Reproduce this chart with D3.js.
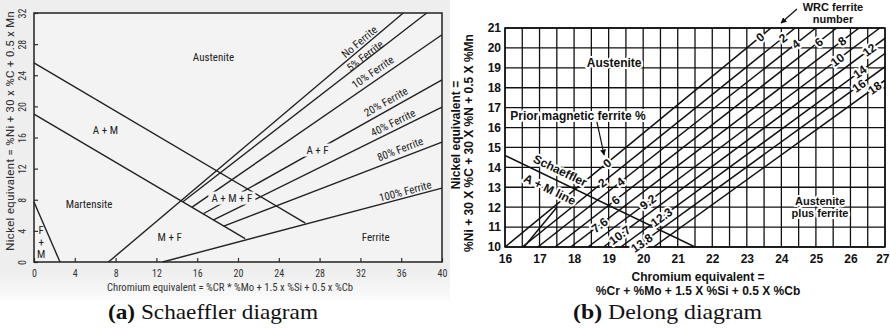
<!DOCTYPE html>
<html><head><meta charset="utf-8">
<script src="https://cdn.jsdelivr.net/npm/d3@7"></script>
<style>
html,body{margin:0;padding:0;background:#fff;}
svg{display:block;}
</style></head><body>
<svg id="c" width="890" height="328"></svg>
<script>
// ================= DATA: (a) Schaeffler diagram =================
const schXTicks = [0,4,8,12,16,20,24,28,32,36,40];
const schYTicks = [0,4,8,12,16,20,24,28,32];
// phase boundaries: [Cr_eq, Ni_eq] start / end
const schBoundaryStart = [[0,25.6],[0,19.0],[0,7.7],[7.3,0],[12.6,0]];
const schBoundaryEnd   = [[26.6,5.0],[20.7,3.0],[2.55,0],[36.2,32],[40,9.5]];
// ferrite iso-lines starting on the martensite boundary
const schFerriteStart = [[14.6,7.75],[15.5,7.05],[16.6,6.2],[17.6,5.4],[18.6,4.6]];
const schFerriteEnd   = [[38.5,32],[40,29.2],[40,23.4],[40,19.9],[40,15.4]];
const schLineNames = ["No Ferrite","5% Ferrite","10% Ferrite","20% Ferrite","40% Ferrite","80% Ferrite","100% Ferrite"];
const schLineNamePos = [[31.9,28.3],[32.45,26.5],[33.2,24.4],[34.5,20.6],[35.2,17.9],[35.9,14.5],[36.4,9.1]];
const schRegionNames = ["Austenite","A + M","Martensite","M + F","Ferrite","F","+","M"];
const schRegionPos = [[17.6,26.35],[7.0,17.0],[5.4,7.45],[13.3,3.2],[33.5,3.2],[0.7,4.1],[0.7,2.6],[0.7,1.0]];
const schInlineNames = ["A + M + F","A + F"];
const schInlineCr = [19.4,27.8];   // placed on the 20% ferrite line

// ================= DATA: (b) Delong diagram =================
const dlXTicks = [16,17,18,19,20,21,22,23,24,25,26,27];
const dlYTicks = [10,11,12,13,14,15,16,17,18,19,20,21];
const wrcFN = [0,2,4,6,8,10,12,14,16,18];
const magneticPct = [0,2,4,6,7.6,9.2,10.7,12.3,13.8];
const fnCrAtNi10 = [16.0,16.5,16.95,17.45,17.9,18.4,18.85,19.35,19.8,20.3];
const fnCrAtNi21 = [23.7,24.4,25.0,25.6,26.25,26.85,27.4,28.0,28.55,29.1];
const wrcLabelNi = [20.55,20.5,20.2,20.3,20.35,19.4,19.9,18.8,18.1,18.0];
const magLabelNi = [14.22,13.22,13.27,12.36,11.1,12.26,10.6,11.5,10.2];
const schaefflerAMLine = [[16,14.6],[21.5,10]];
const shortSegment = [[16.55,10],[17.5,12]];

// ================= DRAW =================
const svg = d3.select("#c");
const NARROW = "'Liberation Sans Narrow','Arial Narrow','Roboto Condensed',Arial,sans-serif";
const SANS = "'Liberation Sans',Arial,Helvetica,sans-serif";
const SERIF = "'Liberation Serif','Times New Roman',serif";
const defs = svg.append("defs");
const grad = defs.append("linearGradient").attr("id","panelGrad").attr("x1",0).attr("y1",0).attr("x2",0).attr("y2",1);
grad.append("stop").attr("offset","0%").attr("stop-color","#eeeeee");
grad.append("stop").attr("offset","90%").attr("stop-color","#eeeeee");
grad.append("stop").attr("offset","100%").attr("stop-color","#fbfbfb");
defs.append("marker").attr("id","arr").attr("viewBox","0 0 10 10").attr("refX",9).attr("refY",5)
  .attr("markerWidth",5).attr("markerHeight",5).attr("orient","auto")
  .append("path").attr("d","M0,0L10,5L0,10z").attr("fill","#111");

// ---------- Schaeffler ----------
const sx = d3.scaleLinear().domain([0,40]).range([34,442]);
const sy = d3.scaleLinear().domain([0,32]).range([262,13]);
const gS = svg.append("g");
gS.append("rect").attr("x",0).attr("y",0).attr("width",450).attr("height",300).attr("fill","url(#panelGrad)");
gS.append("rect").attr("x",sx(0)).attr("y",sy(32)).attr("width",sx(40)-sx(0)).attr("height",sy(0)-sy(32)).attr("fill","#f3f3f3");

gS.append("g").attr("transform",`translate(0,${sy(0)})`)
  .call(d3.axisBottom(sx).tickValues(schXTicks).tickSize(-4).tickPadding(8))
  .call(g=>g.select(".domain").remove())
  .call(g=>g.selectAll("line").attr("stroke","#333").attr("stroke-width",1.2))
  .call(g=>g.selectAll("text").attr("font-family",NARROW).attr("font-size",10).attr("fill","#333"));
gS.append("g").attr("transform",`translate(${sx(0)},0)`)
  .call(d3.axisLeft(sy).tickValues(schYTicks).tickSize(-4))
  .call(g=>g.select(".domain").remove())
  .call(g=>g.selectAll("line").attr("stroke","#333").attr("stroke-width",1.2))
  .call(g=>g.selectAll("text").attr("x",null).attr("dy","0.35em").attr("text-anchor","middle")
     .attr("transform","translate(-12,0) rotate(-90)")
     .attr("font-family",NARROW).attr("font-size",10).attr("fill","#333"));

const schSegments = schBoundaryStart.map((s,i)=>[s,schBoundaryEnd[i]])
  .concat(schFerriteStart.map((s,i)=>[s,schFerriteEnd[i]]));
const sLine = d3.line().x(p=>sx(p[0])).y(p=>sy(p[1]));
gS.selectAll("path.seg").data(schSegments).join("path").attr("class","seg")
  .attr("d",sLine).attr("fill","none").attr("stroke","#222").attr("stroke-width",1.4);

gS.append("rect").attr("x",sx(0)).attr("y",sy(32)).attr("width",sx(40)-sx(0)).attr("height",sy(0)-sy(32))
  .attr("fill","none").attr("stroke","#222").attr("stroke-width",1.5);

// segment order for names: No Ferrite=3, 5%..80% = 5..9, 100% = 4
const nameSeg = [schSegments[3],schSegments[5],schSegments[6],schSegments[7],schSegments[8],schSegments[9],schSegments[4]];
schLineNames.forEach((t,i)=>{
  const s = nameSeg[i];
  const ang = Math.atan2(sy(s[1][1])-sy(s[0][1]), sx(s[1][0])-sx(s[0][0]))*180/Math.PI;
  gS.append("text").attr("transform",`translate(${sx(schLineNamePos[i][0])},${sy(schLineNamePos[i][1])}) rotate(${ang})`)
    .attr("text-anchor","middle").attr("dy","0.35em").attr("font-family",NARROW).attr("font-size",11).attr("fill","#222").text(t);
});
schRegionNames.forEach((t,i)=>{
  gS.append("text").attr("x",sx(schRegionPos[i][0])).attr("y",sy(schRegionPos[i][1])).attr("dy","0.35em")
    .attr("text-anchor","middle").attr("font-family",NARROW).attr("font-size",11).attr("fill","#222").text(t);
});
const seg20 = schSegments[7];
schInlineNames.forEach((t,i)=>{
  const cr = schInlineCr[i];
  const ni = seg20[0][1] + (cr-seg20[0][0])*(seg20[1][1]-seg20[0][1])/(seg20[1][0]-seg20[0][0]);
  const tx = gS.append("text").attr("x",sx(cr)).attr("y",sy(ni)).attr("dy","0.35em")
    .attr("text-anchor","middle").attr("font-family",NARROW).attr("font-size",11).attr("fill","#222").text(t);
  const b = tx.node().getBBox();
  gS.insert("rect",()=>tx.node()).attr("x",b.x-3).attr("y",b.y).attr("width",b.width+6).attr("height",b.height).attr("fill","#f3f3f3");
});
gS.append("text").attr("x",230).attr("y",291).attr("text-anchor","middle").attr("font-family",NARROW)
  .attr("font-size",10).attr("fill","#333").attr("textLength",246).attr("lengthAdjust","spacingAndGlyphs")
  .text("Chromium equivalent = %CR * %Mo + 1.5 x %Si + 0.5 x %Cb");
gS.append("text").attr("transform","translate(14,131) rotate(-90)").attr("text-anchor","middle").attr("font-family",NARROW)
  .attr("font-size",10).attr("fill","#333").attr("textLength",240).attr("lengthAdjust","spacingAndGlyphs")
  .text("Nickel equivalent = %Ni + 30 x %C + 0.5 x Mn");

// ---------- Delong ----------
const dx = d3.scaleLinear().domain([16,27]).range([505,885]);
const dy = d3.scaleLinear().domain([10,21]).range([247,28]);
defs.append("clipPath").attr("id","dlClip").append("rect")
  .attr("x",dx(16)).attr("y",dy(21)).attr("width",dx(27)-dx(16)).attr("height",dy(10)-dy(21));
const gD = svg.append("g");
const halo = sel => sel.attr("stroke","#fff").attr("stroke-width",4).attr("paint-order","stroke").attr("stroke-linejoin","round");

gD.selectAll("line.vg").data(d3.range(16,27.001,0.5)).join("line").attr("class","vg")
  .attr("x1",d=>dx(d)).attr("x2",d=>dx(d)).attr("y1",dy(10)).attr("y2",dy(21)).attr("stroke","#111").attr("stroke-width",1.3);
gD.selectAll("line.hg").data(dlYTicks).join("line").attr("class","hg")
  .attr("y1",d=>dy(d)).attr("y2",d=>dy(d)).attr("x1",dx(16)).attr("x2",dx(27)).attr("stroke","#111").attr("stroke-width",1.3);

const dLine = d3.line().x(p=>dx(p[0])).y(p=>dy(p[1]));
const fnSegs = wrcFN.map((f,i)=>[[fnCrAtNi10[i],10],[fnCrAtNi21[i],21]]);
const gClip = gD.append("g").attr("clip-path","url(#dlClip)");
gClip.selectAll("path.fn").data(fnSegs).join("path").attr("class","fn").attr("d",dLine)
  .attr("fill","none").attr("stroke","#111").attr("stroke-width",1.5);
gClip.append("path").attr("d",dLine(schaefflerAMLine)).attr("fill","none").attr("stroke","#111").attr("stroke-width",1.5);
gClip.append("path").attr("d",dLine(shortSegment)).attr("fill","none").attr("stroke","#111").attr("stroke-width",1.5);

gD.append("rect").attr("x",dx(16)).attr("y",dy(21)).attr("width",dx(27)-dx(16)).attr("height",dy(10)-dy(21))
  .attr("fill","none").attr("stroke","#111").attr("stroke-width",1.5);

const crOn = (i,ni)=> fnCrAtNi10[i] + (ni-10)/11*(fnCrAtNi21[i]-fnCrAtNi10[i]);
const angOf = i => Math.atan2(dy(21)-dy(10), dx(fnCrAtNi21[i])-dx(fnCrAtNi10[i]))*180/Math.PI;
const lblStyle = (sel,fs=12) => sel.attr("text-anchor","middle").attr("dy","0.36em").attr("font-family",SANS)
  .attr("font-weight","bold").attr("font-size",fs).attr("fill","#111");
wrcFN.forEach((f,i)=>{
  gD.append("text").attr("transform",`translate(${dx(crOn(i,wrcLabelNi[i]))},${dy(wrcLabelNi[i])}) rotate(${angOf(i)})`)
    .call(lblStyle).call(halo).text(f);
});
magneticPct.forEach((m,i)=>{
  gD.append("text").attr("transform",`translate(${dx(crOn(i,magLabelNi[i]))},${dy(magLabelNi[i])}) rotate(${angOf(i)})`)
    .call(lblStyle).call(halo).text(m);
});
const amAng = Math.atan2(dy(schaefflerAMLine[1][1])-dy(schaefflerAMLine[0][1]), dx(schaefflerAMLine[1][0])-dx(schaefflerAMLine[0][0]))*180/Math.PI;
gD.append("text").attr("transform",`translate(${dx(17.6)},${dy(13.85)}) rotate(${amAng})`).call(lblStyle).call(halo).text("Schaeffler");
gD.append("text").attr("transform",`translate(${dx(17.3)},${dy(12.9)}) rotate(${amAng})`).call(lblStyle).call(halo).text("A + M line");

const plain = (x,y,t,fs)=>gD.append("text").attr("x",x).attr("y",y).call(lblStyle,fs).text(t);
plain(dx(19.16),dy(19.25),"Austenite").call(halo);
plain(dx(18.11),dy(16.58),"Prior magnetic ferrite %").call(halo);
plain(dx(25.12),dy(12.3),"Austenite",11).call(halo);
plain(dx(25.12),dy(11.7),"plus ferrite",11).call(halo);
plain(833,7,"WRC ferrite",11);
plain(833,19,"number",11);
gD.append("line").attr("x1",dx(18.66)).attr("y1",dy(16.28)).attr("x2",dx(18.87)).attr("y2",dy(14.62))
  .attr("stroke","#111").attr("stroke-width",1.2).attr("marker-end","url(#arr)");
gD.append("line").attr("x1",797).attr("y1",9).attr("x2",781).attr("y2",23)
  .attr("stroke","#111").attr("stroke-width",1.2).attr("marker-end","url(#arr)");

gD.append("g").attr("transform",`translate(${dx(16)},0)`)
  .call(d3.axisLeft(dy).tickValues(dlYTicks).tickSize(0).tickPadding(4))
  .call(g=>g.select(".domain").remove())
  .call(g=>g.selectAll("text").attr("font-family",SANS).attr("font-weight","bold").attr("font-size",12).attr("fill","#111"));
gD.append("g").attr("transform",`translate(0,${dy(10)})`)
  .call(d3.axisBottom(dx).tickValues(dlXTicks).tickSize(0).tickPadding(7))
  .call(g=>g.select(".domain").remove())
  .call(g=>g.selectAll("text").attr("font-family",SANS).attr("font-weight","bold").attr("font-size",12).attr("fill","#111")
     .filter(d=>d===27).attr("text-anchor","end").attr("x",4));

const axT = (x,y,t,rot)=>gD.append("text").attr("transform",`translate(${x},${y})${rot?" rotate(-90)":""}`)
  .attr("text-anchor","middle").attr("font-family",SANS).attr("font-weight","bold").attr("font-size",12).attr("fill","#111").text(t);
axT(698,281,"Chromium equivalent =");
axT(698,295,"%Cr + %Mo + 1.5 X %Si + 0.5 X %Cb");
axT(460,135,"Nickel equivalent =",true);
axT(473,143,"%Ni + 30 X %C + 30 X %N + 0.5 X %Mn",true);

// ---------- captions ----------
const cap = (x,len,label,rest)=>{
  const t = svg.append("text").attr("x",x).attr("y",319).attr("font-family",SERIF).attr("font-size",21).attr("fill","#111")
    .attr("textLength",len).attr("lengthAdjust","spacingAndGlyphs");
  t.append("tspan").attr("font-weight","bold").text(label);
  t.append("tspan").text(rest);
};
cap(108,210,"(a)"," Schaeffler diagram");
cap(573,189,"(b)"," Delong diagram");
</script>
</body></html>
